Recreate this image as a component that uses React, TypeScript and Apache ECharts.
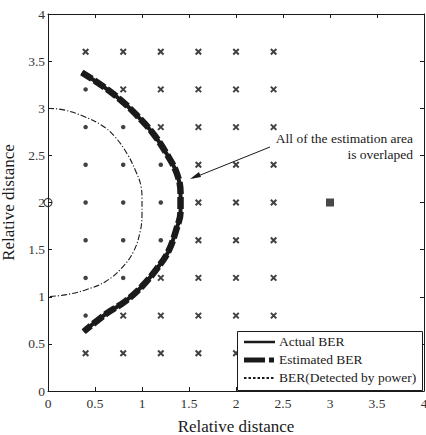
import React, { useEffect, useRef } from "react";
import * as echarts from "echarts";

// Points outside the estimated area (cross markers)
const crossPoints: [number, number][] = [
  [0.4, 3.6], [0.8, 3.6], [1.2, 3.6], [1.6, 3.6], [2.0, 3.6], [2.4, 3.6],
  [0.8, 3.2], [1.2, 3.2], [1.6, 3.2], [2.0, 3.2], [2.4, 3.2],
  [1.2, 2.8], [1.6, 2.8], [2.0, 2.8], [2.4, 2.8],
  [1.6, 2.4], [2.0, 2.4], [2.4, 2.4],
  [1.6, 2.0], [2.0, 2.0], [2.4, 2.0],
  [1.6, 1.6], [2.0, 1.6], [2.4, 1.6],
  [1.2, 1.2], [1.6, 1.2], [2.0, 1.2], [2.4, 1.2],
  [0.8, 0.8], [1.2, 0.8], [1.6, 0.8], [2.0, 0.8], [2.4, 0.8],
  [0.4, 0.4], [0.8, 0.4], [1.2, 0.4], [1.6, 0.4], [2.0, 0.4], [2.4, 0.4],
];

// Points inside the estimated area (dot markers)
const dotPoints: [number, number][] = [
  [0.4, 3.2],
  [0.4, 2.8], [0.8, 2.8],
  [0.4, 2.4], [0.8, 2.4], [1.2, 2.4],
  [0.4, 2.0], [0.8, 2.0], [1.2, 2.0],
  [0.4, 1.6], [0.8, 1.6], [1.2, 1.6],
  [0.4, 1.2], [0.8, 1.2],
  [0.4, 0.8],
];

const transmitter: [number, number][] = [[0, 2]];
const interferer: [number, number][] = [[3, 2]];

// Boundary curves
const actualBER: [number, number][] = [
  [0.36, 3.38], [0.59, 3.23], [0.77, 3.09], [0.94, 2.93], [1.12, 2.73],
  [1.26, 2.52], [1.37, 2.31], [1.41, 2.1], [1.41, 1.9], [1.37, 1.73],
  [1.28, 1.48], [1.16, 1.3], [1.0, 1.11], [0.82, 0.95], [0.62, 0.82],
  [0.38, 0.63],
];
const estimatedBER: [number, number][] = [
  [0.36, 3.38], [0.59, 3.23], [0.77, 3.09], [0.94, 2.93], [1.12, 2.73],
  [1.26, 2.52], [1.37, 2.31], [1.41, 2.1], [1.41, 1.9], [1.37, 1.73],
  [1.28, 1.48], [1.16, 1.3], [1.0, 1.11], [0.82, 0.95], [0.62, 0.82],
  [0.38, 0.63],
];
const powerBER: [number, number][] = [
  [0, 3.0], [0.18, 2.98], [0.39, 2.91], [0.57, 2.82], [0.71, 2.7],
  [0.84, 2.52], [0.93, 2.34], [0.99, 2.17], [1.0, 2.03], [1.0, 1.87],
  [0.98, 1.69], [0.91, 1.48], [0.78, 1.3], [0.61, 1.16], [0.39, 1.07],
  [0.18, 1.02], [0, 1.0],
];

const legendLabels = ["Actual BER", "Estimated BER", "BER(Detected by power)"];
const annotation = ["All of the estimation area", "is overlaped"];

const FONT = "'Liberation Serif', 'Times New Roman', Times, serif";
const INK = "#1a1a1a";

export default function App() {
  const ref = useRef<HTMLDivElement>(null);
  useEffect(() => {
    if (!ref.current) return;
    const chart = echarts.init(ref.current, null, { renderer: "svg" });
    const axisCommon = {
      type: "value" as const,
      min: 0,
      max: 4,
      interval: 0.5,
      splitLine: { show: false },
      axisLine: { show: true, onZero: false, lineStyle: { color: INK, width: 1 } },
      axisTick: { show: true, inside: true, length: 4, lineStyle: { color: INK } },
    };
    const labelStyle = { color: "#333", fontFamily: FONT, fontSize: 13.5 };
    chart.setOption({
      animation: false,
      backgroundColor: "#fff",
      grid: {
        left: 48,
        right: 2,
        top: 14,
        bottom: 44,
        containLabel: false,
        outerBoundsMode: "none",
      },
      xAxis: [
        {
          ...axisCommon,
          position: "bottom",
          name: "Relative distance",
          nameLocation: "middle",
          nameGap: 27,
          nameTextStyle: { fontFamily: FONT, fontSize: 17, color: INK },
          axisLabel: { ...labelStyle, margin: 5, formatter: (v: number) => String(v) },
        },
        { ...axisCommon, position: "top", axisLabel: { show: false } },
      ],
      yAxis: [
        {
          ...axisCommon,
          position: "left",
          name: "Relative distance",
          nameLocation: "middle",
          nameGap: 27,
          nameTextStyle: { fontFamily: FONT, fontSize: 17, color: INK },
          axisLabel: { ...labelStyle, margin: 3, formatter: (v: number) => String(v) },
        },
        { ...axisCommon, position: "right", axisLabel: { show: false } },
      ],
      series: [
        {
          type: "line",
          data: powerBER,
          smooth: 0.4,
          symbol: "none",
          lineStyle: { color: INK, width: 1.1, type: [6, 2, 1.2, 2] },
          z: 2,
        },
        {
          type: "line",
          data: actualBER,
          smooth: 0.4,
          symbol: "none",
          lineStyle: { color: INK, width: 4 },
          z: 3,
        },
        {
          type: "line",
          data: estimatedBER,
          smooth: 0.4,
          symbol: "none",
          lineStyle: { color: INK, width: 6.5, type: [12, 3] },
          z: 4,
        },
        {
          type: "scatter",
          data: crossPoints,
          symbol: "path://M0,0L10,10M10,0L0,10",
          symbolSize: 5.5,
          itemStyle: { color: "none", borderColor: "#111", borderWidth: 2 },
          z: 5,
        },
        {
          type: "scatter",
          data: dotPoints,
          symbol: "circle",
          symbolSize: 4.5,
          itemStyle: { color: "#111" },
          z: 5,
        },
        {
          type: "scatter",
          data: transmitter,
          symbol: "circle",
          symbolSize: 8,
          itemStyle: { color: "none", borderColor: INK, borderWidth: 1.2 },
          z: 6,
        },
        {
          type: "scatter",
          data: interferer,
          symbol: "rect",
          symbolSize: 8,
          itemStyle: { color: INK },
          z: 6,
        },
      ],
      graphic: [
        // annotation
        {
          type: "text",
          right: 13,
          top: 131,
          style: {
            text: annotation[0],
            fontFamily: FONT,
            fontSize: 13.5,
            fill: INK,
            align: "right",
          },
        },
        {
          type: "text",
          right: 13,
          top: 147,
          style: {
            text: annotation[1],
            fontFamily: FONT,
            fontSize: 13.5,
            fill: INK,
            align: "right",
          },
        },
        {
          type: "line",
          shape: { x1: 270, y1: 147, x2: 193, y2: 178 },
          style: { stroke: INK, lineWidth: 1 },
          z: 10,
        },
        {
          type: "polygon",
          shape: { points: [[190, 179], [199, 172], [201, 177]] },
          style: { fill: INK },
          z: 10,
        },
        // legend
        {
          type: "rect",
          shape: { x: 237.5, y: 331.5, width: 185, height: 59 },
          style: { fill: "#fff", stroke: INK, lineWidth: 1 },
          z: 20,
        },
        {
          type: "line",
          shape: { x1: 244, y1: 342, x2: 275, y2: 342 },
          style: { stroke: INK, lineWidth: 2.5 },
          z: 21,
        },
        {
          type: "line",
          shape: { x1: 244, y1: 360, x2: 265, y2: 360 },
          style: { stroke: INK, lineWidth: 5 },
          z: 21,
        },
        {
          type: "line",
          shape: { x1: 269, y1: 360, x2: 274, y2: 360 },
          style: { stroke: INK, lineWidth: 5 },
          z: 21,
        },
        {
          type: "line",
          shape: { x1: 244, y1: 378, x2: 275, y2: 378 },
          style: { stroke: INK, lineWidth: 2, lineDash: [2.5, 2] },
          z: 21,
        },
        ...legendLabels.map((t, i) => ({
          type: "text",
          left: 279,
          top: 334 + i * 18,
          z: 21,
          style: { text: t, fontFamily: FONT, fontSize: 13.5, fill: INK },
        })),
      ],
    });
    return () => chart.dispose();
  }, []);
  return (
    <div
      ref={ref}
      style={{ position: "fixed", left: 0, top: 0, width: 426, height: 435 }}
    />
  );
}
